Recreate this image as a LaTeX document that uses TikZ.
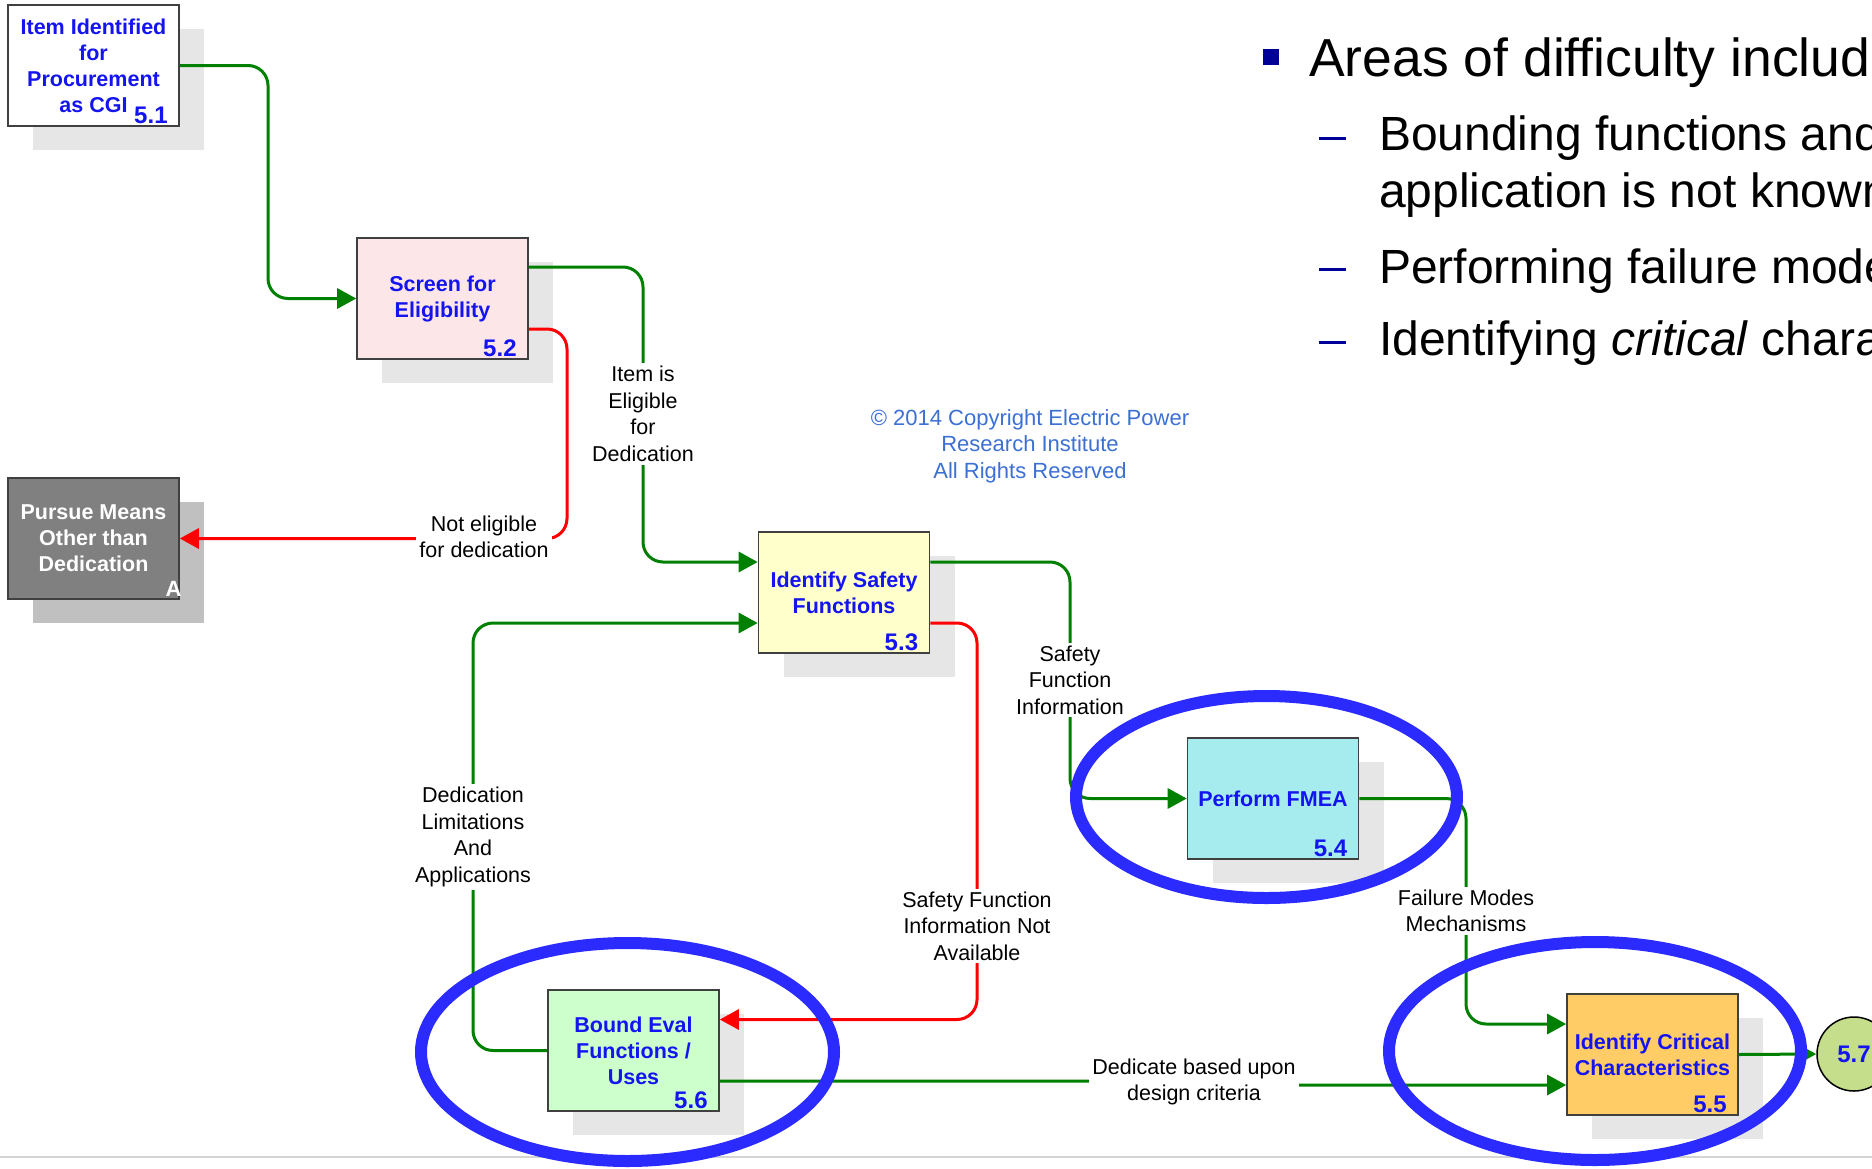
\documentclass[tikz,border=0pt]{standalone}
\usepackage{fontspec}
\setmainfont{Liberation Sans}
\usetikzlibrary{arrows.meta,shadows,calc}

\definecolor{boxblue}{RGB}{20,20,240}
\definecolor{flowgreen}{RGB}{0,128,0}
\definecolor{flowred}{RGB}{255,0,0}
\definecolor{ringblue}{RGB}{43,43,255}
\definecolor{shadowgray}{RGB}{230,230,230}
\definecolor{shadowdark}{RGB}{192,192,192}
\definecolor{boxedge}{RGB}{64,64,64}
\definecolor{fillpink}{RGB}{253,230,232}
\definecolor{fillyellow}{RGB}{255,255,204}
\definecolor{fillcyan}{RGB}{166,236,239}
\definecolor{fillorange}{RGB}{255,204,102}
\definecolor{fillmint}{RGB}{204,255,204}
\definecolor{fillgray}{RGB}{128,128,128}
\definecolor{filllime}{RGB}{197,222,140}
\definecolor{copyblue}{RGB}{60,112,212}
\definecolor{bulletblue}{RGB}{0,0,153}
\definecolor{footgray}{RGB}{212,212,212}

\begin{document}
\begin{tikzpicture}[x=1pt,y=-1pt,
  procbox/.style={draw=boxedge, line width=1.6pt, minimum width=171pt,
    minimum height=121pt, inner sep=2pt, align=center, text=boxblue,
    font=\fontsize{21.5}{26}\selectfont\bfseries,
    drop shadow={shadow xshift=25pt,shadow yshift=-24pt,fill=shadowgray,opacity=1}},
  exitbox/.style={procbox, fill=fillgray, text=white,
    drop shadow={shadow xshift=25pt,shadow yshift=-24pt,fill=shadowdark,opacity=1}},
  boxnum/.style={anchor=base east, inner sep=0pt, text=boxblue,
    font=\fontsize{24}{24}\selectfont\bfseries},
  gflow/.style={draw=flowgreen, line width=3pt, rounded corners=20pt,
    -{Triangle[length=19pt,width=20pt]}},
  rflow/.style={gflow, draw=flowred, -{Triangle[length=19pt,width=20pt]}},
  flowlabel/.style={fill=white, align=center, inner sep=3pt,
    font=\fontsize{21.5}{26.5}\selectfont},
  ring/.style={draw=ringblue, line width=12pt},
  slidetext/.style={anchor=base west, inner sep=0pt},
]
\useasboundingbox (0,0) rectangle (1872,1168);
\clip (0,0) rectangle (1872,1168);
\fill[white] (0,0) rectangle (1872,1168);

% slide footer rule
\draw[footgray, line width=2pt] (0,1157) -- (1872,1157);

% process boxes
\node[procbox, fill=white] (n51) at (93.5,65.5) {Item Identified\\for\\Procurement\\as CGI};
\node[procbox, fill=fillpink] (n52) at (442.5,298.5) {Screen for\\Eligibility};
\node[exitbox] (nA) at (93.5,538.5) {Pursue Means\\Other than\\Dedication};
\node[procbox, fill=fillyellow] (n53) at (844,592.5) {Identify Safety\\Functions};
\node[procbox, fill=fillcyan] (n54) at (1273,798.5) {Perform FMEA};
\node[procbox, fill=fillorange] (n55) at (1652.5,1054.5) {Identify Critical\\Characteristics};
\node[procbox, fill=fillmint] (n56) at (633.5,1050.5) {Bound Eval\\Functions /\\Uses};
\node[circle, draw=black, line width=1.5pt, fill=filllime, minimum size=74pt,
  inner sep=0pt, text=boxblue, font=\fontsize{24}{24}\selectfont\bfseries]
  (n57) at (1854,1054) {5.7};

% step numbers
\node[boxnum] (k51) at ($(n51.south east)+(-12,-3)$) {5.1};
\node[boxnum] (k52) at ($(n52.south east)+(-12,-3)$) {5.2};
\node[boxnum] (k53) at ($(n53.south east)+(-12,-3)$) {5.3};
\node[boxnum] (k54) at ($(n54.south east)+(-12,-3)$) {5.4};
\node[boxnum] (k55) at ($(n55.south east)+(-12,-3)$) {5.5};
\node[boxnum] (k56) at ($(n56.south east)+(-12,-3)$) {5.6};
\node[boxnum, text=white, font=\fontsize{22}{22}\selectfont\bfseries]
  (kA) at ($(nA.south east)+(2,-3)$) {A};

% connectors
\draw[gflow] (n51.east) -- (268,65.5) -- (268,298.5) -- (n52.west);
\draw[gflow] ($(n52.east)+(0,-31.5)$) -- (643,267) -- (643,562) -- ($(n53.west)+(0,-30.5)$);
\draw[rflow] ($(n52.east)+(0,30.5)$) -- (567,329) -- (567,538.5) -- (nA.east);
\draw[gflow] ($(n53.east)+(0,-30.5)$) -- (1070,562) -- (1070,798.5) -- (n54.west);
\draw[rflow] ($(n53.east)+(0,30.5)$) -- (977,623) -- (977,1019.5) -- ($(n56.east)+(0,-31)$);
\draw[gflow] (n56.west) -- (473,1050.5) -- (473,623) -- ($(n53.west)+(0,30.5)$);
\draw[gflow] ($(n56.east)+(0,30.5)$) -- (1194,1081) -- (1194,1085) -- ($(n55.west)+(0,30.5)$);
\draw[gflow] (n54.east) -- (1466,798.5) -- (1466,1024) -- ($(n55.west)+(0,-30.5)$);
\draw[gflow] (n55.east) -- (n57.west);

% connector labels
\node[flowlabel] (l1) at (643,414) {Item is\\Eligible\\for\\Dedication};
\node[flowlabel] (l2) at (484,537) {Not eligible\\for dedication};
\node[flowlabel] (l3) at (1070,680) {Safety\\Function\\Information};
\node[flowlabel] (l4) at (977,926) {Safety Function\\Information Not\\Available};
\node[flowlabel] (l5) at (473,837) {Dedication\\Limitations\\And\\Applications};
\node[flowlabel] (l6) at (1466,911) {Failure Modes\\Mechanisms};
\node[flowlabel] (l7) at (1194,1082) {Dedicate based upon\\design criteria};

% copyright notice
\node[align=center, text=copyblue, inner sep=0pt,
  font=\fontsize{22}{26.5}\selectfont] (copy) at (1030,446)
  {\textcopyright{} 2014 Copyright Electric Power\\Research Institute\\All Rights Reserved};

% highlight rings
\draw[ring] (1266.5,797) ellipse [x radius=190.5pt, y radius=101pt];
\draw[ring] (627.5,1052) ellipse [x radius=206.5pt, y radius=109pt];
\draw[ring] (1595,1051) ellipse [x radius=206pt, y radius=109pt];

% bullet list
\fill[bulletblue] (1263,49) rectangle (1279,65);
\node[slidetext, font=\fontsize{53.5}{53.5}\selectfont] (t0) at (1309,76) {Areas of difficulty include:};
\fill[bulletblue] (1319,136.5) rectangle (1346,139.5);
\node[slidetext, font=\fontsize{48}{57}\selectfont] (t1) at (1379,150) {Bounding functions and};
\node[slidetext, font=\fontsize{48}{57}\selectfont] (t1b) at (1379,207) {application is not known};
\fill[bulletblue] (1319,267.5) rectangle (1346,270.5);
\node[slidetext, font=\fontsize{48}{57}\selectfont] (t2) at (1379,283) {Performing failure modes};
\fill[bulletblue] (1319,340.5) rectangle (1346,343.5);
\node[slidetext, font=\fontsize{48}{57}\selectfont] (t3) at (1379,355) {Identifying \textit{critical} characteristics};
\end{tikzpicture}
\end{document}
